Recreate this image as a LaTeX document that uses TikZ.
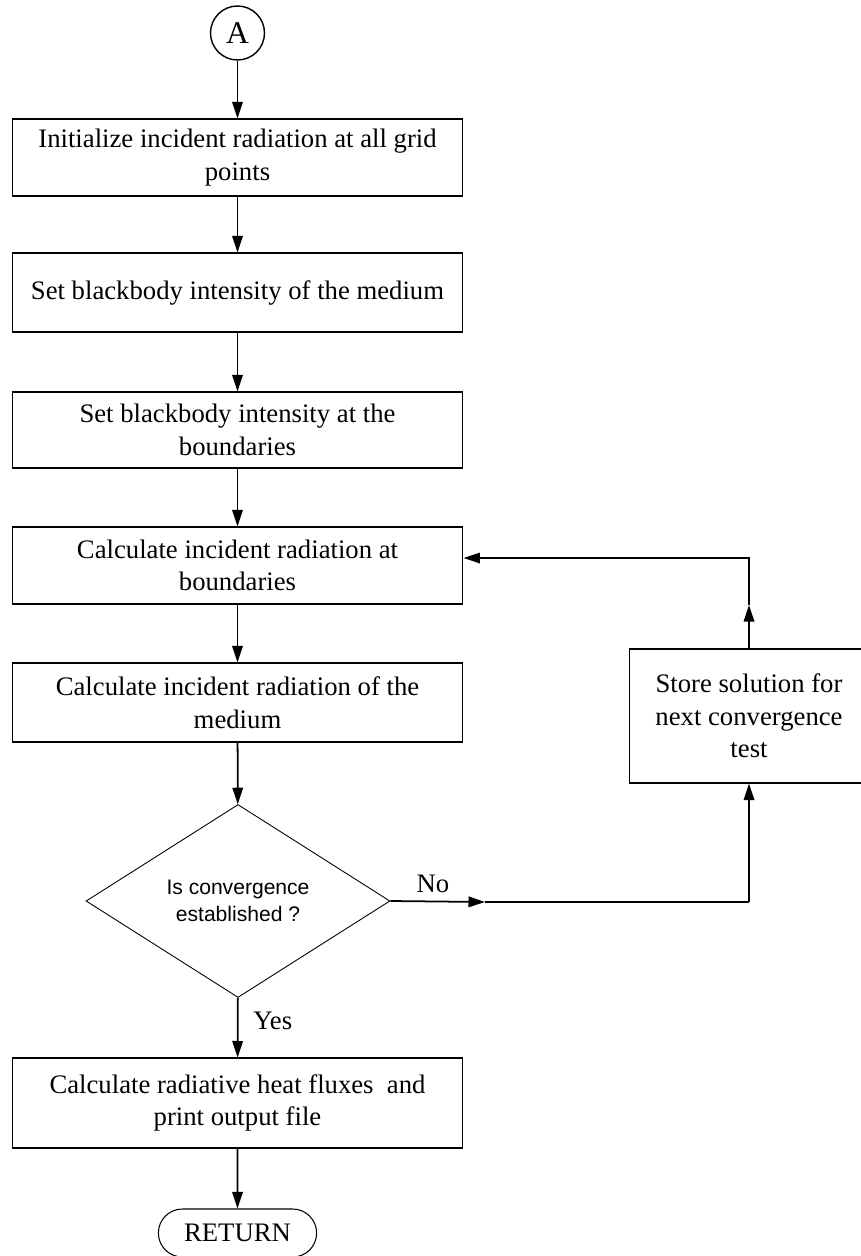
\documentclass[tikz,border=0pt]{standalone}
\usepackage{fontspec}
\setmainfont{Liberation Serif}
\newfontfamily\diafont{Liberation Sans}
\usetikzlibrary{arrows.meta,shapes.geometric,shapes.misc}

\tikzset{
  stepbox/.style={draw, line width=0.6pt, minimum width=9.02cm, align=center,
    inner sep=2pt, font=\fontsize{15.2}{18.5}\selectfont},
  line/.style={line width=1pt, -{Triangle[length=0.33cm,width=0.21cm]}},
  lbl/.style={font=\fontsize{15.2}{18.5}\selectfont, inner sep=0pt},
}

\begin{document}
\begin{tikzpicture}[x=0.02cm, y=-0.02cm]
    \useasboundingbox (0,0) rectangle (860,1256);
    \node[draw, circle, line width=0.8pt, minimum size=1.08cm, inner sep=0pt,
      font=\fontsize{18}{20}\selectfont] (start) at (237.5,33) {A};
    \node[stepbox, minimum height=1.54cm] (init) at (237.5,157.5) {Initialize incident radiation at all grid\\points};
    \node[stepbox, minimum height=1.58cm] (bbmed) at (237.5,292.5) {Set blackbody intensity of the medium};
    \node[stepbox, minimum height=1.52cm] (bbbnd) at (237.5,430) {Set blackbody intensity at the\\boundaries};
    \node[stepbox, minimum height=1.54cm] (calcb) at (237.5,565.5) {Calculate incident radiation at\\boundaries};
    \node[stepbox, minimum height=1.58cm] (calcm) at (237.5,702.5) {Calculate incident radiation of the\\medium};
    \node[draw, diamond, minimum width=6.08cm, minimum height=3.86cm, inner sep=0pt,
      line width=0.5pt, align=center, font=\diafont\fontsize{12}{15.5}\selectfont] (conv) at (238,901) {Is convergence\\established ?};
    \node[stepbox, minimum height=1.8cm] (flux) at (237.5,1103) {Calculate radiative heat fluxes\ \ and\\print output file};
    \node[draw, rounded rectangle, minimum width=3.4cm, minimum height=0.96cm, line width=0.6pt,
      font=\fontsize{15.2}{18.5}\selectfont] (ret) at (237.5,1233) {RETURN};
    \node[stepbox, minimum width=4.8cm, minimum height=2.68cm] (store) at (749,716) {Store solution for\\next convergence\\test};

    \node[lbl] (no) at (433,884) {No};
    \node[lbl, anchor=west] (yes) at (253,1021) {Yes};

    \coordinate (nomid) at (485,902);
    \coordinate (nocorner) at (749,902);
    \coordinate (upmid) at (749,605);
    \coordinate (upcorner) at (749,558);

    \draw[line] (start) -- (init);
    \draw[line] (init) -- (bbmed);
    \draw[line] (bbmed) -- (bbbnd);
    \draw[line] (bbbnd) -- (calcb);
    \draw[line] (calcb) -- (calcm);
    \draw[line] (calcm) -- (conv);
    \draw[line] (conv) -- (flux);
    \draw[line] (flux) -- (ret);
    \draw[line] (conv.east) -- (nomid);
    \draw[line width=1pt] (nomid) -- (nocorner);
    \draw[line] (nocorner) -- (store.south);
    \draw[line] (store.north) -- (upmid);
    \draw[line] (upmid) -- (upcorner) -- (calcb.east |- upcorner);
\end{tikzpicture}
\end{document}
